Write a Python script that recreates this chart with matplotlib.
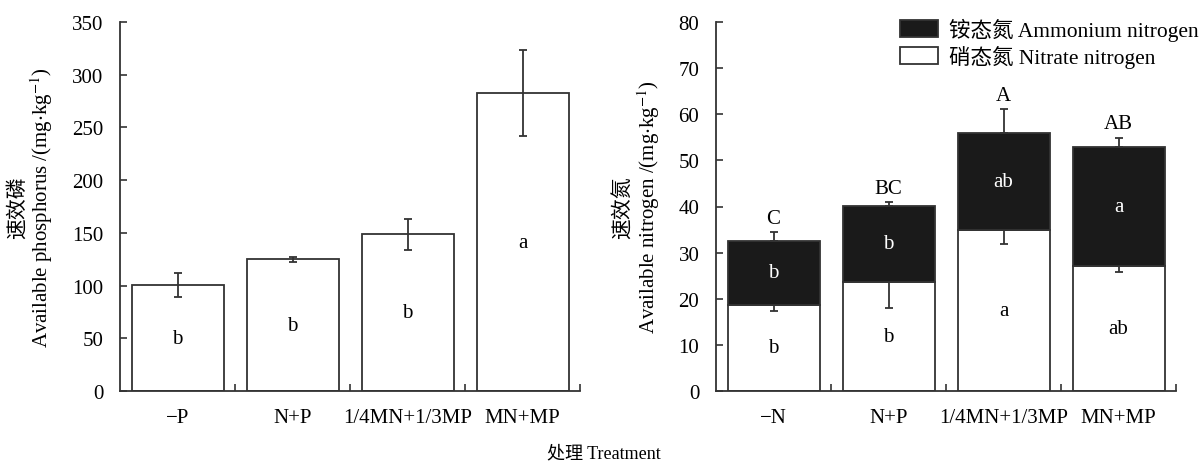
import matplotlib
matplotlib.use("Agg")
import matplotlib.pyplot as plt
import numpy as np
from matplotlib.patches import Patch

plt.rcParams['font.family'] = ['Liberation Serif', 'Noto Sans CJK SC']
plt.rcParams['mathtext.fontset'] = 'stix'
plt.rcParams['font.size'] = 15

# Left panel: available phosphorus
p_labels = ['\u2212P', 'N+P', '1/4MN+1/3MP', 'MN+MP']
p_values = [100.5, 125, 148.5, 282.5]
p_err = [11, 2.5, 15, 41]
p_letters = ['b', 'b', 'b', 'a']

# Right panel: available nitrogen (stacked)
n_labels = ['\u2212N', 'N+P', '1/4MN+1/3MP', 'MN+MP']
nitrate = [18.7, 23.7, 34.8, 27.0]
nitrate_err = [1.4, 5.7, 2.9, 1.3]
ammonium = [13.9, 16.5, 21.1, 25.8]
total_err = [1.9, 0.8, 5.2, 2.1]
nitrate_letters = ['b', 'b', 'a', 'ab']
ammonium_letters = ['b', 'b', 'ab', 'a']
total_letters = ['C', 'BC', 'A', 'AB']

W, H = 1203, 464
fig = plt.figure(figsize=(W / 100, H / 100), dpi=100)
ax1 = fig.add_axes([120 / W, 1 - 392 / H, 460 / W, 369 / H])
ax2 = fig.add_axes([716 / W, 1 - 392 / H, 460 / W, 369 / H])

ecol = '#333333'
x = np.arange(4) + 0.5

# Left
ax1.bar(x, p_values, width=0.8, color='white', edgecolor='#333333', linewidth=1.3, zorder=2)
ax1.errorbar(x, p_values, yerr=p_err, fmt='none', ecolor=ecol, elinewidth=1.3, capsize=3, capthick=1.3, zorder=3)
for xi, v, l in zip(x, p_values, p_letters):
    ax1.text(xi, v / 2, l, ha='center', va='center', fontsize=15)
ax1.set_ylim(0, 350)
ax1.set_yticks(np.arange(0, 351, 50))
ax1.set_ylabel('速效磷\nAvailable phosphorus /(mg$\\cdot$kg$^{-1}$)', linespacing=1.05, labelpad=12)

# Right
zeros = [0] * 4
ax2.bar(x, nitrate, width=0.8, color='white', edgecolor='#333333', linewidth=1.3, zorder=2)
ax2.errorbar(x, nitrate, yerr=[nitrate_err, zeros], fmt='none', ecolor=ecol, elinewidth=1.3,
             capsize=3, capthick=1.3, zorder=3)
tot = np.array(nitrate) + np.array(ammonium)
ax2.bar(x, ammonium, bottom=nitrate, width=0.8, color='#1a1a1a', edgecolor='#333333', linewidth=1.3, zorder=4)
ax2.errorbar(x, tot, yerr=[zeros, total_err], fmt='none', ecolor=ecol, elinewidth=1.3,
             capsize=3, capthick=1.3, zorder=5)
for i, xi in enumerate(x):
    ax2.text(xi, nitrate[i] / 2, nitrate_letters[i], ha='center', va='center', fontsize=15, zorder=6)
    ax2.text(xi, nitrate[i] + ammonium[i] / 2, ammonium_letters[i], ha='center', va='center',
             fontsize=15, color='white', zorder=6)
    ax2.text(xi, tot[i] + total_err[i] + 3.0, total_letters[i], ha='center', va='center', fontsize=15, zorder=6)
ax2.set_ylim(0, 80)
ax2.set_yticks(np.arange(0, 81, 10))
ax2.set_ylabel('速效氮\nAvailable nitrogen /(mg$\\cdot$kg$^{-1}$)', linespacing=1.05, labelpad=12)

for ax, labels in ((ax1, p_labels), (ax2, n_labels)):
    ax.set_xlim(0, 4)
    ax.set_xticks(x)
    ax.set_xticklabels(labels)
    ax.set_xticks([1, 2, 3, 4], minor=True)
    for s in ('top', 'right'):
        ax.spines[s].set_visible(False)
    for s in ('left', 'bottom'):
        ax.spines[s].set_linewidth(1.3)
        ax.spines[s].set_color('#333333')
    ax.tick_params(axis='both', which='both', direction='in', length=5, width=1.2, color='#333333')
    ax.tick_params(axis='x', which='major', pad=12)
    ax.tick_params(axis='y', which='major', pad=12)

handles = [Patch(facecolor='#1a1a1a', edgecolor='#333333', linewidth=1.3),
           Patch(facecolor='white', edgecolor='#333333', linewidth=1.3)]
fig.legend(handles, ['铵态氮 Ammonium nitrogen', '硝态氮 Nitrate nitrogen'],
           loc='upper right', bbox_to_anchor=(1 + 6 / W, 1 - 8 / H), frameon=False,
           handlelength=1.75, handleheight=0.8, handletextpad=0.5, labelspacing=0.2,
           borderaxespad=0.1, fontsize=15.5)

fig.text(0.502, 1 - 454 / H, '处理 Treatment', ha='center', va='center', fontsize=13)

fig.savefig('out.png', dpi=100)
